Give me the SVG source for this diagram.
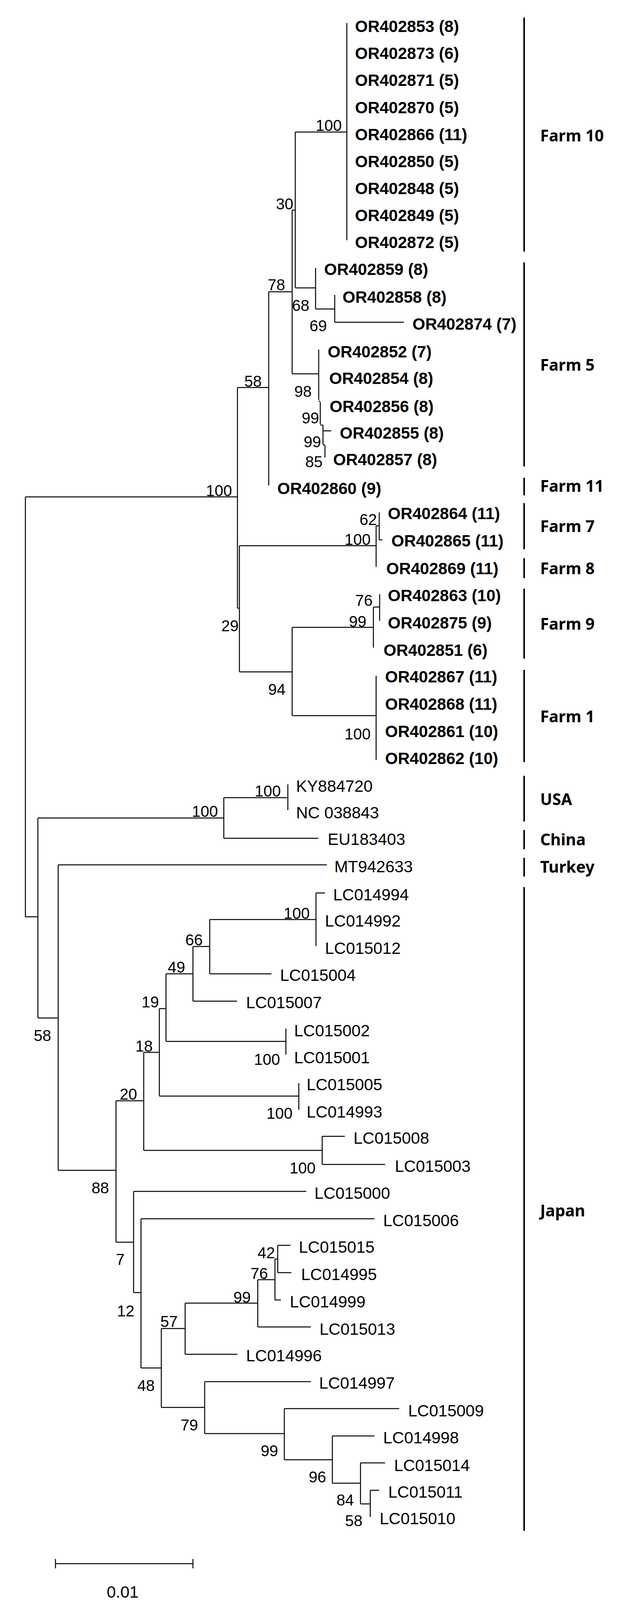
<svg xmlns="http://www.w3.org/2000/svg" width="1590" height="4133" viewBox="0 0 1590 4133">
<style>
.b{fill:none;stroke:#000;stroke-width:2.5}
.bar{fill:none;stroke:#000;stroke-width:4}
.lo{font-family:"Liberation Sans",Arial,sans-serif;font-size:42px;font-weight:bold}
.lr{font-family:"Liberation Sans",Arial,sans-serif;font-size:42px}
.bs{font-family:"Liberation Sans",Arial,sans-serif;font-size:40px;text-anchor:end}
.grp{font-family:"Noto Sans","Liberation Sans",sans-serif;font-size:41px;font-weight:bold}
</style>
<rect width="1590" height="4133" fill="#fff"/>
<g id="connectors" class="b">
<path d="M65 1272V2347M65 1272H608M608 992V1557M608 992H688M688 747V1243M688 747H748M748 538V957M748 538H756M756 338V737M756 338H888M888 59V615"/>
<path d="M756 737H808M808 686V791M808 791H857M857 755V825M857 825H1034"/>
<path d="M748 957H816M816 895V1024M816 1027H820M820 1029V1086M820 1088H827M827 1089V1138M827 1103H848M827 1139H832M832 1140V1171"/>
<path d="M608 1557H613M613 1397V1720M613 1397H963M963 1346V1451M963 1346H971M971 1312V1382M971 1382H979"/>
<path d="M613 1720H748M748 1606V1832M748 1606H956M956 1554V1658M956 1554H972M972 1521V1589M748 1832H963M963 1730V1945"/>
<path d="M65 2347H97M97 2094V2606M97 2094H573M573 2042V2146M573 2042H737M737 2008V2074M573 2146H815"/>
<path d="M97 2606H149M149 2214V2996M149 2214H837M149 2996H297M297 2818V3180"/>
<path d="M297 2818H368M368 2694V2945M368 2694H408M408 2582V2806M408 2582H425M425 2493V2666M425 2493H494M494 2423V2563M494 2563H607M494 2423H537M537 2354V2493M537 2493H695M537 2354H809M809 2286V2422M809 2286H832"/>
<path d="M425 2666H732M732 2633V2700M408 2806H765M765 2773V2841M368 2945H825M825 2909V2981M825 2909H883M825 2981H986"/>
<path d="M297 3180H342M342 3050V3309M342 3050H784M342 3309H361M361 3120V3502M361 3120H959"/>
<path d="M361 3502H413M413 3401V3603M413 3401H474M474 3336V3467M474 3467H608M474 3336H660M660 3276V3397M660 3397H796M660 3276H704M704 3223V3328M704 3328H719M704 3223H711M711 3188V3258M711 3188H744M711 3258H746"/>
<path d="M413 3603H524M524 3537V3670M524 3537H796M524 3670H728M728 3606V3737M728 3606H1022M728 3737H851M851 3676V3797M851 3676H959M851 3797H923M923 3745V3850M923 3745H986M923 3850H948M948 3815V3883M948 3815H971"/>
<path d="M142 4003H494M142 3991V4015M494 3991V4015"/>
</g>
<g id="group-bars" class="bar">
<path d="M1342 45V644M1342 672V1194M1342 1223V1268M1342 1288V1406M1342 1429V1480M1342 1507V1686M1342 1715V1951M1342 1986V2103M1342 2125V2174M1342 2196V2244M1342 2271V3919"/>
</g>
<g id="leaves-farm" class="lo">
<text x="909" y="82">OR402853 (8)</text>
<text x="909" y="151">OR402873 (6)</text>
<text x="909" y="220">OR402871 (5)</text>
<text x="909" y="290">OR402870 (5)</text>
<text x="909" y="359">OR402866 (11)</text>
<text x="909" y="428">OR402850 (5)</text>
<text x="909" y="497">OR402848 (5)</text>
<text x="909" y="566">OR402849 (5)</text>
<text x="909" y="635">OR402872 (5)</text>
<text x="830" y="704">OR402859 (8)</text>
<text x="877" y="775">OR402858 (8)</text>
<text x="1056" y="844">OR402874 (7)</text>
<text x="839" y="915">OR402852 (7)</text>
<text x="843" y="983">OR402854 (8)</text>
<text x="844" y="1055">OR402856 (8)</text>
<text x="870" y="1123">OR402855 (8)</text>
<text x="853" y="1191">OR402857 (8)</text>
<text x="710" y="1265">OR402860 (9)</text>
<text x="993" y="1329">OR402864 (11)</text>
<text x="1002" y="1399">OR402865 (11)</text>
<text x="989" y="1470">OR402869 (11)</text>
<text x="993" y="1539">OR402863 (10)</text>
<text x="993" y="1609">OR402875 (9)</text>
<text x="982" y="1679">OR402851 (6)</text>
<text x="986" y="1747">OR402867 (11)</text>
<text x="986" y="1817">OR402868 (11)</text>
<text x="986" y="1887">OR402861 (10)</text>
<text x="986" y="1956">OR402862 (10)</text>
</g>
<g id="leaves-ref" class="lr">
<text x="758" y="2027">KY884720</text>
<text x="758" y="2095">NC 038843</text>
<text x="839" y="2163">EU183403</text>
<text x="856" y="2233">MT942633</text>
<text x="853" y="2305">LC014994</text>
<text x="832" y="2372">LC014992</text>
<text x="832" y="2442">LC015012</text>
<text x="717" y="2511">LC015004</text>
<text x="630" y="2581">LC015007</text>
<text x="753" y="2653">LC015002</text>
<text x="753" y="2722">LC015001</text>
<text x="785" y="2791">LC015005</text>
<text x="785" y="2861">LC014993</text>
<text x="905" y="2928">LC015008</text>
<text x="1011" y="3000">LC015003</text>
<text x="805" y="3069">LC015000</text>
<text x="981" y="3139">LC015006</text>
<text x="765" y="3207">LC015015</text>
<text x="771" y="3277">LC014995</text>
<text x="742" y="3347">LC014999</text>
<text x="818" y="3417">LC015013</text>
<text x="630" y="3485">LC014996</text>
<text x="817" y="3555">LC014997</text>
<text x="1045" y="3626">LC015009</text>
<text x="981" y="3695">LC014998</text>
<text x="1009" y="3766">LC015014</text>
<text x="994" y="3834">LC015011</text>
<text x="972" y="3902">LC015010</text>
</g>
<g id="bootstrap" class="bs">
<text x="875" y="335">100</text><text x="751" y="536">30</text><text x="730" y="743">78</text>
<text x="792" y="796">68</text><text x="837" y="848">69</text><text x="798" y="1016">98</text>
<text x="817" y="1084">99</text><text x="822" y="1145">99</text><text x="826" y="1196">85</text>
<text x="670" y="990">58</text><text x="594" y="1270">100</text><text x="965" y="1344">62</text>
<text x="949" y="1395">100</text><text x="611" y="1616">29</text><text x="938" y="1605">99</text>
<text x="954" y="1551">76</text><text x="731" y="1779">94</text><text x="949" y="1893">100</text>
<text x="558" y="2091">100</text><text x="719" y="2039">100</text><text x="131" y="2665">58</text>
<text x="279" y="3055">88</text><text x="351" y="2815">20</text><text x="391" y="2692">18</text>
<text x="407" y="2579">19</text><text x="474" y="2490">49</text><text x="519" y="2420">66</text>
<text x="793" y="2352">100</text><text x="717" y="2726">100</text><text x="749" y="2864">100</text>
<text x="808" y="3004">100</text><text x="319" y="3238">7</text><text x="704" y="3221">42</text>
<text x="686" y="3274">76</text><text x="344" y="3370">12</text><text x="455" y="3397">57</text>
<text x="642" y="3335">99</text><text x="396" y="3561">48</text><text x="507" y="3662">79</text>
<text x="712" y="3728">99</text><text x="835" y="3795">96</text><text x="906" y="3854">84</text>
<text x="928" y="3907">58</text>
</g>
<g id="group-labels" class="grp">
<text x="1383" y="362">Farm 10</text>
<text x="1383" y="949">Farm 5</text>
<text x="1383" y="1259">Farm 11</text>
<text x="1383" y="1362">Farm 7</text>
<text x="1383" y="1470">Farm 8</text>
<text x="1383" y="1612">Farm 9</text>
<text x="1383" y="1849">Farm 1</text>
<text x="1383" y="2061">USA</text>
<text x="1383" y="2164">China</text>
<text x="1383" y="2234">Turkey</text>
<text x="1383" y="3114">Japan</text>
</g>
<g id="scale"><text x="314" y="4090" class="lr" style="text-anchor:middle">0.01</text></g>
</svg>
